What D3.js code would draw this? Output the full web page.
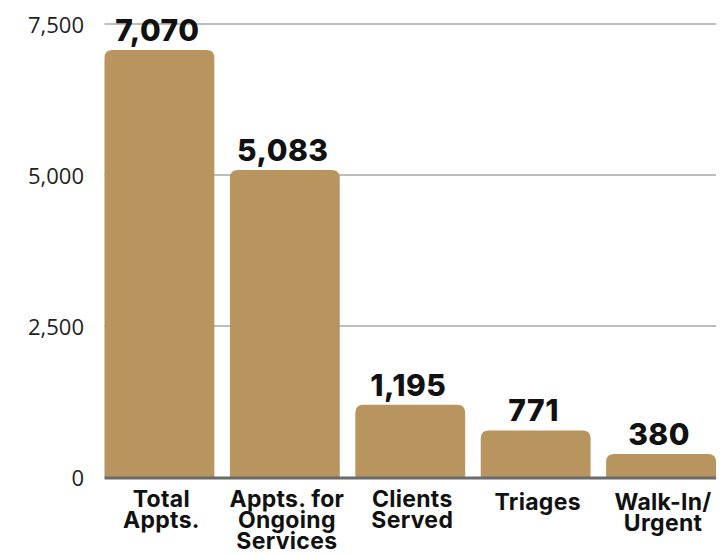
<!DOCTYPE html>
<html>
<head>
<meta charset="utf-8">
<script src="https://cdn.jsdelivr.net/npm/d3@7"></script>
<style>
  html, body { margin: 0; padding: 0; background: #fff; }
  svg { display: block; }
</style>
</head>
<body>
<svg id="chart" width="725" height="554"></svg>
<script>
// Appointment counts by category
const categories = ["Total Appts.", "Appts. for Ongoing Services", "Clients Served", "Triages", "Walk-In/ Urgent"];
const categoryLines = [["Total", "Appts."], ["Appts. for", "Ongoing", "Services"], ["Clients", "Served"], ["Triages"], ["Walk-In/", "Urgent"]];
const values = [7070, 5083, 1195, 771, 380];
const yTicks = [0, 2500, 5000, 7500];

const svg = d3.select("#chart");
const plotLeft = 104.5, plotRight = 716, plotTop = 24, plotBottom = 477;

const x = d3.scaleBand().domain(categories).range([plotLeft, plotRight]).paddingInner(0.124).paddingOuter(0);
const y = d3.scaleLinear().domain([0, 7500]).range([plotBottom, plotTop]);

// gridlines and tick labels
svg.append("g").selectAll("line").data(yTicks.filter(d => d > 0)).join("line")
  .attr("x1", plotLeft).attr("x2", plotRight)
  .attr("y1", d => y(d)).attr("y2", d => y(d))
  .attr("stroke", "#bdbdbd").attr("stroke-width", 2);

svg.append("g").selectAll("text").data(yTicks).join("text")
  .attr("x", 84).attr("y", d => y(d))
  .attr("text-anchor", "end").attr("dominant-baseline", "central")
  .attr("font-family", "'Open Sans', sans-serif").attr("font-size", 22)
  .attr("fill", "#222")
  .text(d => d3.format(",")(d));

// bars with rounded tops
const r = 8;
function barPath(x0, w, yTop, yBase) {
  const rr = Math.min(r, (yBase - yTop));
  return `M${x0},${yBase}V${yTop + rr}Q${x0},${yTop} ${x0 + rr},${yTop}H${x0 + w - rr}Q${x0 + w},${yTop} ${x0 + w},${yTop + rr}V${yBase}Z`;
}
svg.append("g").selectAll("path").data(values).join("path")
  .attr("d", (d, i) => barPath(x(categories[i]), x.bandwidth(), y(d), y(0)))
  .attr("fill", "#b8955f");

// baseline
svg.append("line")
  .attr("x1", plotLeft).attr("x2", plotRight)
  .attr("y1", y(0) + 1).attr("y2", y(0) + 1)
  .attr("stroke", "#6b6b6b").attr("stroke-width", 3);

// value labels
svg.append("g").selectAll("text").data(values).join("text")
  .attr("x", (d, i) => x(categories[i]) + x.bandwidth() / 2 - 2)
  .attr("y", d => y(d) - 9)
  .attr("text-anchor", "middle")
  .attr("font-family", "Inter, sans-serif").attr("font-weight", 800).attr("font-size", 30)
  .attr("letter-spacing", 0.5)
  .attr("fill", "#111")
  .text(d => d3.format(",")(d));

// category labels
const lblOffset = [0, 0, 0, 3, 3];
categoryLines.forEach((lines, i) => {
  const cx = x(categories[i]) + x.bandwidth() / 2 + 2;
  const t = svg.append("text")
    .attr("x", cx)
    .attr("y", 507 + lblOffset[i])
    .attr("text-anchor", "middle")
    .attr("font-family", "Inter, sans-serif").attr("font-weight", 700).attr("font-size", 23)
    .attr("letter-spacing", 0.3)
    .attr("fill", "#111");
  lines.forEach((ln, j) => {
    t.append("tspan").attr("x", cx).attr("dy", j === 0 ? 0 : 21).text(ln);
  });
});
</script>
</body>
</html>
